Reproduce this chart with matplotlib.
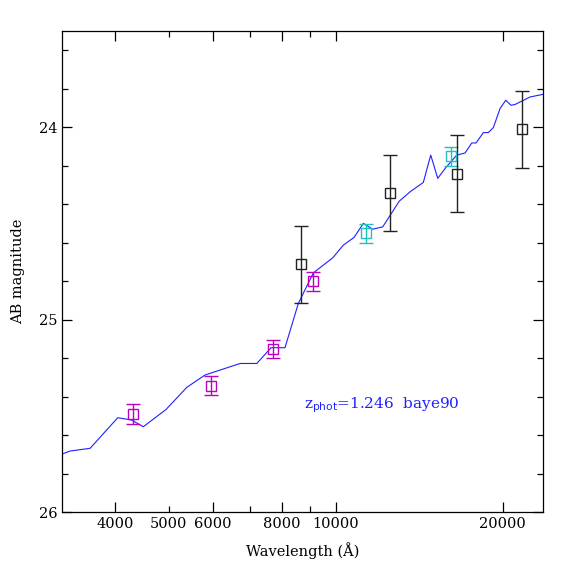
import numpy as np
import matplotlib
matplotlib.use("Agg")
import matplotlib.pyplot as plt
from matplotlib.ticker import FixedLocator, NullFormatter, FixedFormatter

# model spectrum (wavelength in Angstrom, AB mag)
model_wl = [3210, 3320, 3607, 4046, 4287, 4498, 4944, 5389, 5812, 6724,
            7206, 7646, 8100, 8562, 9113, 9876, 10320, 10789, 11214, 11659,
            12153, 13021, 13612, 14384, 14834, 15272, 15742, 16524, 17105, 17587,
            17904, 18455, 18842, 19237, 19779, 20252, 20702, 21049, 22398, 23665]
model_mag = [25.699, 25.683, 25.669, 25.510, 25.522, 25.557, 25.467, 25.352, 25.288, 25.228,
             25.228, 25.146, 25.146, 24.916, 24.757, 24.679, 24.613, 24.573, 24.500, 24.530,
             24.518, 24.384, 24.336, 24.287, 24.145, 24.266, 24.215, 24.145, 24.134, 24.082,
             24.082, 24.028, 24.028, 24.002, 23.903, 23.860, 23.886, 23.882, 23.843, 23.829]

# observed photometry
mag_wl = [4311, 5959, 7709, 9090]
mag_mag = [25.49, 25.344, 25.153, 24.80]
mag_err = [0.05, 0.05, 0.047, 0.05]

cyan_wl = [11340, 16120]
cyan_mag = [24.551, 24.151]
cyan_err = [0.05, 0.05]

blk_wl = [8647, 12544, 16545, 21670]
blk_mag = [24.712, 24.343, 24.243, 24.01]
blk_err = [0.2, 0.198, 0.2, 0.2]

xticks = [4000, 5000, 6000, 8000, 10000, 20000]
xminor = [7000, 9000]

plt.rcParams['font.family'] = ['DejaVu Serif']

fig = plt.figure(figsize=(5.74, 5.74), dpi=100)
ax = fig.add_axes([0.108, 0.108, 0.838, 0.838])

ax.plot(model_wl, model_mag, color='#2020ff', lw=0.8)

ekw = dict(fmt='s', ms=7.5, mfc='none', mew=1.0, capsize=4.7, elinewidth=1.0, capthick=1.0)
ax.errorbar(mag_wl, mag_mag, yerr=mag_err, color='#c000c0', **ekw)
ax.errorbar(cyan_wl, cyan_mag, yerr=cyan_err, color='#20c0c0', **ekw)
ax.errorbar(blk_wl, blk_mag, yerr=blk_err, color='#222222', **ekw)

ax.set_xscale('log')
ax.set_xlim(3210, 23640)
ax.set_ylim(26, 23.5)

ax.xaxis.set_major_locator(FixedLocator(xticks))
ax.xaxis.set_major_formatter(FixedFormatter([str(t) for t in xticks]))
ax.xaxis.set_minor_locator(FixedLocator(xminor))
ax.xaxis.set_minor_formatter(NullFormatter())
ax.yaxis.set_major_locator(FixedLocator([24, 25, 26]))
ax.yaxis.set_minor_locator(FixedLocator(np.arange(23.6, 26, 0.2)))

ax.tick_params(which='both', direction='in', top=True, right=True, labelsize=10.5, width=0.9)
ax.tick_params(which='major', length=7.5)
ax.tick_params(which='minor', length=4)
# 5000 tick drawn short like the others in between
t5 = ax.xaxis.get_major_ticks()[1]
t5.tick1line.set_markersize(4)
t5.tick2line.set_markersize(4)

for s in ax.spines.values():
    s.set_linewidth(0.9)

ax.set_xlabel('Wavelength (Å)', fontsize=10.5, labelpad=8)
ax.set_ylabel('AB magnitude', fontsize=10.5, labelpad=10)

ax.text(0.503, 0.222, r'z$_{\rm phot}$=1.246  baye90', transform=ax.transAxes,
        color='#2020ff', fontsize=11, va='center', ha='left')

fig.savefig('out.png', dpi=100)
